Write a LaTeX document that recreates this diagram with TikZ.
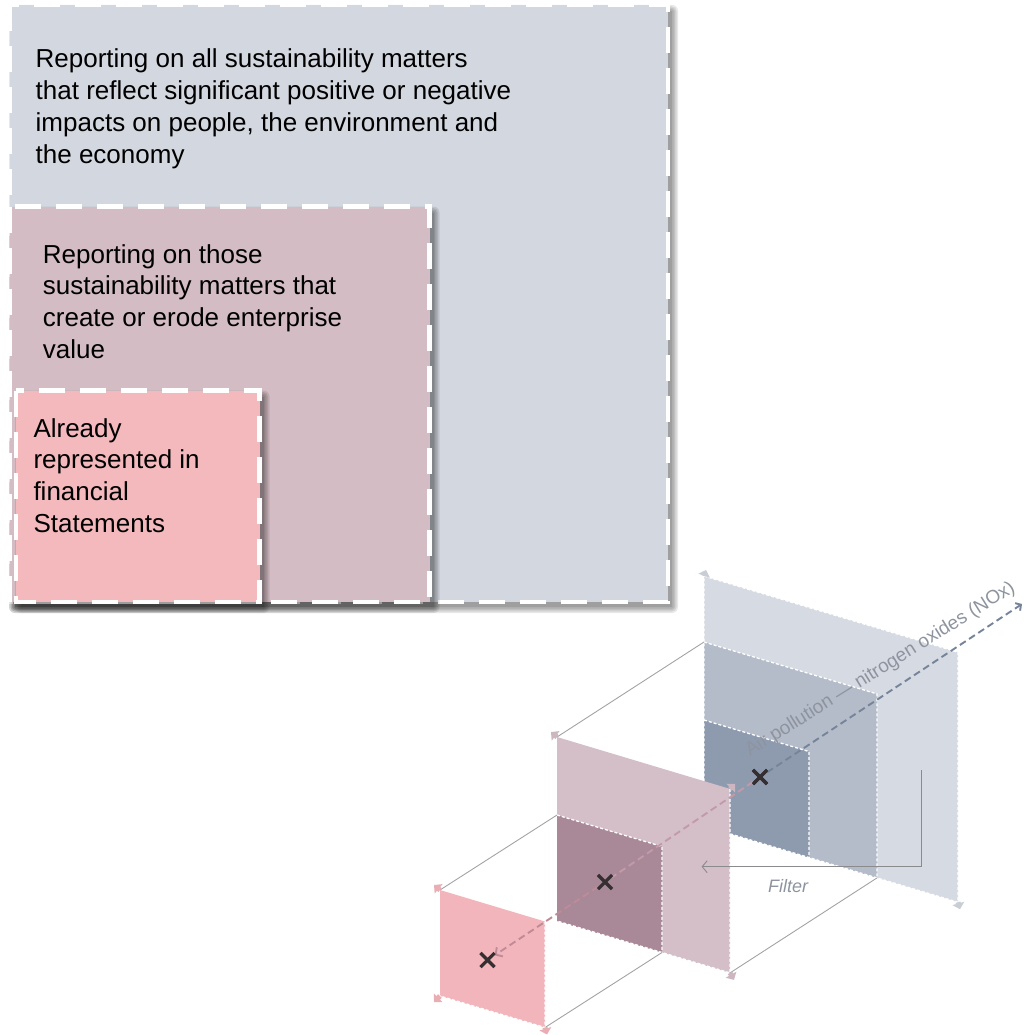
\documentclass[tikz,border=0pt]{standalone}
\usepackage{fontspec}
\setmainfont{Liberation Sans}
\usetikzlibrary{arrows.meta,shapes.misc}

% flat nested boxes
\definecolor{allgrey}{HTML}{D3D7DF}
\definecolor{valmauve}{HTML}{D3BCC4}
\definecolor{finpink}{HTML}{F3B9BC}
% projected panels
\definecolor{backlight}{HTML}{D6DAE2}
\definecolor{backmid}{HTML}{B4BCC9}
\definecolor{backdark}{HTML}{8E9BAF}
\definecolor{midlight}{HTML}{D4BFC8}
\definecolor{middark}{HTML}{A98897}
\definecolor{frontpink}{HTML}{F2B5BB}
\definecolor{guide}{HTML}{A3A3A6}
\definecolor{axisgrey}{HTML}{76849A}
\definecolor{axismauve}{HTML}{C29AA8}
\definecolor{axispink}{HTML}{BE8C98}
\definecolor{labelgrey}{HTML}{8E949F}
\definecolor{crossdark}{HTML}{352F32}

\tikzset{
  flatedge/.style={draw=white, line width=4.5pt, dash pattern=on 26pt off 15pt},
  boxtext/.style={anchor=base west, inner sep=0pt, font=\fontsize{26}{31.7}\selectfont},
  panel/.style={fill=#1},
  paneledge/.style={draw=white, line width=1.3pt, dash pattern=on 3pt off 2pt},
  guideline/.style={draw=guide, line width=0.9pt},
  axisline/.style={line width=1.9pt, dash pattern=on 7pt off 4pt, draw=#1},
  crossmark/.style={cross out, draw=crossdark, line width=3.2pt, minimum size=11pt, inner sep=0pt},
  ticktip/.style={line width=5pt, draw=#1, -{Triangle[length=6pt,width=12pt,fill=#1]}},
  filterline/.style={draw=guide!85!black, line width=0.9pt},
}

% soft shadow below and to the right of a rectangle
\newcommand\softshadow[4]{%
  \foreach \r in {0,1.5,...,6}{%
    \fill[black, opacity=0.09, rounded corners=\r pt]
      (#1+5-\r,#2+6-\r) rectangle (#3+4+\r,#4+5+\r);}}

\begin{document}
\begin{tikzpicture}[x=1pt,y=-1pt]
\useasboundingbox (0,0) rectangle (1025,1035);

% ---------- nested boxes ----------
\softshadow{10}{5}{668}{602}
\fill[allgrey] (10,5) rectangle (668,602);
\path[flatedge] (10,5) rectangle (668,602);
\softshadow{10}{206.5}{429.5}{602}
\fill[valmauve] (10,206.5) rectangle (429.5,602);
\path[flatedge] (10,206.5) rectangle (429.5,602);
\softshadow{16}{390.5}{259.5}{602}
\fill[finpink] (16,390.5) rectangle (259.5,602);
\path[flatedge] (16,390.5) rectangle (259.5,602);

\node[boxtext] (alltext) at (35.5,68) {\parbox[t]{560pt}{\raggedright\fontsize{26}{31.7}\selectfont
  Reporting on all sustainability matters\\
  that reflect significant positive or negative\\
  impacts on people, the environment and\\
  the economy}};
\node[boxtext] (valtext) at (42.7,263) {\parbox[t]{380pt}{\raggedright\fontsize{26}{31.7}\selectfont
  Reporting on those\\
  sustainability matters that\\
  create or erode enterprise\\
  value}};
\node[boxtext] (fintext) at (33.3,437) {\parbox[t]{220pt}{\raggedright\fontsize{26}{31.7}\selectfont
  Already\\
  represented in\\
  financial\\
  Statements}};

% ---------- projected panels: corner points ----------
\coordinate (bTL) at (704,576);   \coordinate (bTR) at (958,652.2);
\coordinate (bBR) at (958,902.2); \coordinate (bBL) at (704,826);
\coordinate (bmTL) at (704,642);  \coordinate (bmTR) at (877,693.9);
\coordinate (bmBR) at (877,877.9);
\coordinate (bdTL) at (704,720);  \coordinate (bdTR) at (809,751.5);
\coordinate (bdBR) at (809,857.5);

\coordinate (mTL) at (557,737);   \coordinate (mTR) at (730,788.9);
\coordinate (mBR) at (730,972.9); \coordinate (mBL) at (557,921);
\coordinate (mdTL) at (557,815);  \coordinate (mdTR) at (662,846.5);
\coordinate (mdBR) at (662,952.5);

\coordinate (fTL) at (440,890);   \coordinate (fTR) at (545,921.5);
\coordinate (fBR) at (545,1027.5);\coordinate (fBL) at (440,996);

% back panel
\path[panel=backlight] (bTL) -- (bTR) -- (bBR) -- (bBL) -- cycle;
\path[panel=backmid] (bmTL) -- (bmTR) -- (bmBR) -- (bBL) -- cycle;
\path[panel=backdark] (bdTL) -- (bdTR) -- (bdBR) -- (bBL) -- cycle;
\path[paneledge] (bTL) -- (bTR) -- (bBR) -- (bBL) -- cycle;
\path[paneledge] (bmTL) -- (bmTR) -- (bmBR);
\path[paneledge] (bdTL) -- (bdTR) -- (bdBR);
\draw[ticktip=backlight!94!black] (bTL) -- ++(2,-6);
\draw[ticktip=backlight!94!black] (bBR) -- ++(2,7);

% cross marks and axis end
\node[crossmark] (xback) at (760,777) {};
\node[crossmark] (xmid) at (605,882) {};
\node[crossmark] (xfront) at (487.5,960) {};
\coordinate (axisend) at (1022,604);

\draw[axisline=axisgrey, -{Straight Barb[length=4pt,width=9pt]}] (xback) -- (axisend);

% guides from middle panel to back panel
\draw[guideline] (mTL) -- (bmTL);
\draw[guideline] (mBR) -- (bmBR);

% middle panel
\path[panel=midlight] (mTL) -- (mTR) -- (mBR) -- (mBL) -- cycle;
\path[panel=middark] (mdTL) -- (mdTR) -- (mdBR) -- (mBL) -- cycle;
\path[paneledge] (mTR) -- (mBR) -- (mBL);
\path[paneledge] (mdTL) -- (mdTR) -- (mdBR);
\draw[ticktip=midlight!96!black] (mTL) -- ++(-6,-5);
\draw[ticktip=midlight!96!black] (mTR) -- ++(5,-5);
\draw[ticktip=midlight!96!black] (mBR) -- ++(4,7);

\draw[axisline=axismauve] (xback) -- (xmid);

% filter arrow
\coordinate (filtertop) at (921.5,770);
\coordinate (filterbend) at (921.5,866.7);
\coordinate (filterend) at (701.6,866.7);
\draw[filterline, -{Straight Barb[length=5pt,width=12pt]}] (filtertop) -- (filterbend) -- (filterend);
\node[font=\itshape\fontsize{18}{20}\selectfont, text=labelgrey] (filterlabel) at (788,886) {Filter};

% guides from front panel to middle panel
\draw[guideline] (fTL) -- (mdTL);
\draw[guideline] (fBR) -- (mdBR);

% front panel
\path[panel=frontpink] (fTL) -- (fTR) -- (fBR) -- (fBL) -- cycle;
\path[paneledge] (fTR) -- (fBR) -- (fBL);
\draw[ticktip=frontpink!96!black] (fTL) -- ++(-6,-5);
\draw[ticktip=frontpink!96!black] (fBL) -- ++(-6,6);
\draw[ticktip=frontpink!96!black] (fBR) -- ++(2,7);

\draw[axisline=axispink, -{Straight Barb[length=5pt,width=11pt]}] (xmid) -- (xfront);

% redraw cross marks on top
\node[crossmark] at (xback) {};
\node[crossmark] at (xmid) {};
\node[crossmark] at (xfront) {};

\node[anchor=base west, inner sep=0pt, rotate=32, text=labelgrey,
      font=\fontsize{19}{21}\selectfont] (axislabel) at (750,757)
      {Air pollution — nitrogen oxides (NOx)};
\end{tikzpicture}
\end{document}
